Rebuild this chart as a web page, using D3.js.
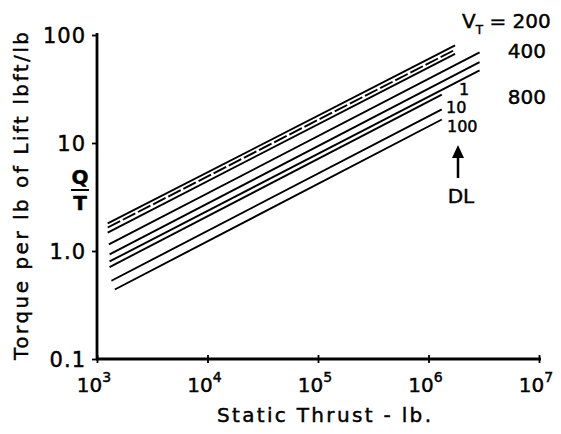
<!DOCTYPE html>
<html>
<head>
<meta charset="utf-8">
<script src="https://cdn.jsdelivr.net/npm/d3@7"></script>
<style>
  body { margin: 0; background: #fff; }
  svg text { font-family: "DejaVu Sans", sans-serif; fill: #000; stroke: #000; stroke-width: 0.45; }
</style>
</head>
<body>
<svg id="chart" width="561" height="434"></svg>
<script>
// Static thrust (lb) at both ends of each line, and Q/T there
var startThrust = [1250, 1250, 1250, 1280, 1300, 1300, 1300, 1350, 1450];
var startTorque = [1.80, 1.65, 1.48, 1.15, 0.93, 0.80, 0.71, 0.53, 0.44];
var endThrust = [1.74e6, 1.74e6, 1.74e6, 2.9e6, 2.9e6, 2.9e6, 1.32e6, 1.32e6, 1.32e6];
var endTorque = [80, 73, 67, 69, 56, 47, 28, 20.5, 16.5];
var dashed = [false, true, false, false, false, false, false, false, false];

var xTicks = [1e3, 1e4, 1e5, 1e6, 1e7];
var xTickPowers = ["3", "4", "5", "6", "7"];
var yTicks = [0.1, 1, 10, 100];
var yTickLabels = ["0.1", "1.0", "10", "100"];

var vtLabels = ["200", "400", "800"];
var dlLabels = ["1", "10", "100"];

var svg = d3.select("#chart");

var x = d3.scaleLog().domain([1e3, 1e7]).range([97, 539]);
var y = d3.scaleLog().domain([0.1, 100]).range([359, 35]);

// lines
var lineGen = d3.line()
    .x(function (d) { return x(d[0]); })
    .y(function (d) { return y(d[1]); });

var series = startThrust.map(function (t, i) {
    return [[t, startTorque[i]], [endThrust[i], endTorque[i]]];
});

svg.append("g")
    .selectAll("path")
    .data(series)
    .enter()
    .append("path")
        .attr("d", lineGen)
        .attr("fill", "none")
        .attr("stroke", "#000")
        .attr("stroke-width", 1.9)
        .attr("stroke-dasharray", function (d, i) { return dashed[i] ? "14 3" : null; });

// y axis
var yAxis = d3.axisLeft(y).tickValues(yTicks).tickSize(5).tickFormat("");
var yg = svg.append("g")
    .attr("transform", "translate(97,0)")
    .call(yAxis);
yg.select(".domain").attr("stroke-width", 2.8).attr("d", "M0,33V360");
yg.selectAll(".tick line").attr("stroke-width", 1.8);

svg.append("g")
    .selectAll("text")
    .data(yTicks)
    .enter()
    .append("text")
        .attr("x", 86)
        .attr("y", function (d) { return y(d) + 8; })
        .attr("text-anchor", "end")
        .attr("font-size", 21)
        .attr("letter-spacing", 1)
        .text(function (d, i) { return yTickLabels[i]; });

// x axis
var xAxis = d3.axisBottom(x).tickValues(xTicks).tickSize(4).tickFormat("");
var xg = svg.append("g")
    .attr("transform", "translate(0,359)")
    .call(xAxis);
xg.select(".domain").attr("stroke-width", 2.8).attr("d", "M96,0H541");
xg.selectAll(".tick line").attr("stroke-width", 1.8).attr("y1", -4);

var xLab = svg.append("g")
    .selectAll("text")
    .data(xTicks)
    .enter()
    .append("text")
        .attr("x", function (d) { return x(d) - 3; })
        .attr("y", 392)
        .attr("font-size", 20)
        .attr("text-anchor", "middle");
xLab.append("tspan").text("10");
xLab.append("tspan")
    .attr("font-size", 14)
    .attr("dy", -10)
    .text(function (d, i) { return xTickPowers[i]; });

// axis titles
svg.append("text")
    .attr("x", 324)
    .attr("y", 422)
    .attr("text-anchor", "middle")
    .attr("font-size", 20)
    .attr("textLength", 214)
    .attr("lengthAdjust", "spacing")
    .text("Static Thrust - lb.");

svg.append("text")
    .attr("transform", "translate(28,196) rotate(-90)")
    .attr("text-anchor", "middle")
    .attr("font-size", 20)
    .attr("textLength", 328)
    .attr("lengthAdjust", "spacing")
    .text("Torque per lb of Lift lbft/lb");

// Q over T
svg.append("text").attr("x", 80).attr("y", 184).attr("text-anchor", "middle")
    .attr("font-size", 20).attr("font-weight", "bold").text("Q");
svg.append("line").attr("x1", 71).attr("x2", 89).attr("y1", 190).attr("y2", 190)
    .attr("stroke", "#000").attr("stroke-width", 2);
svg.append("text").attr("x", 80).attr("y", 210).attr("text-anchor", "middle")
    .attr("font-size", 20).attr("font-weight", "bold").text("T");

// V_T labels
var vt = svg.append("text").attr("x", 462).attr("y", 28).attr("font-size", 20);
vt.append("tspan").text("V");
vt.append("tspan").attr("font-size", 12).attr("dy", 6).text("T");
vt.append("tspan").attr("dy", -6).text(" = " + vtLabels[0]);

svg.append("text").attr("x", 546).attr("y", 58).attr("text-anchor", "end")
    .attr("font-size", 20).text(vtLabels[1]);
svg.append("text").attr("x", 546).attr("y", 104).attr("text-anchor", "end")
    .attr("font-size", 20).text(vtLabels[2]);

// DL labels
svg.append("text").attr("x", 459).attr("y", 95).attr("font-size", 16).text(dlLabels[0]);
svg.append("text").attr("x", 446).attr("y", 113).attr("font-size", 16).text(dlLabels[1]);
svg.append("text").attr("x", 447).attr("y", 132).attr("font-size", 16).text(dlLabels[2]);

// arrow up to DL values
svg.append("line").attr("x1", 458).attr("x2", 458).attr("y1", 178).attr("y2", 153)
    .attr("stroke", "#000").attr("stroke-width", 2.5);
svg.append("path").attr("d", "M452,158L458,145L464,158Z").attr("fill", "#000");

svg.append("text").attr("x", 461).attr("y", 203).attr("text-anchor", "middle")
    .attr("font-size", 20).text("DL");
</script>
</body>
</html>
